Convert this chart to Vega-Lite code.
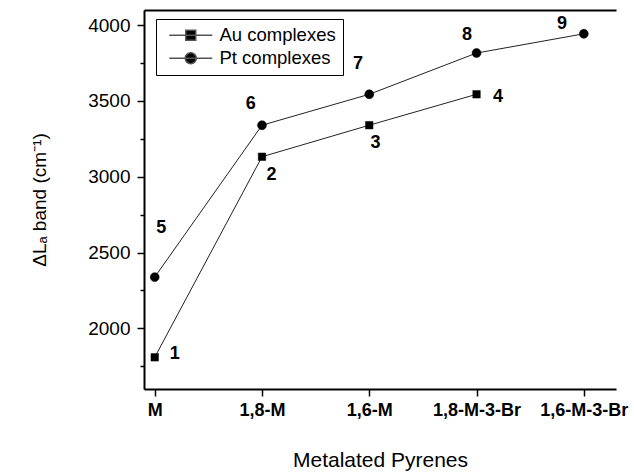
{
  "$schema": "https://vega.github.io/schema/vega-lite/v6.json",
  "width": 472,
  "height": 379,
  "autosize": {"type": "none"},
  "padding": {"left": 144, "top": 10, "right": 18, "bottom": 83},
  "background": "white",
  "config": {
    "font": "Liberation Sans",
    "view": {"stroke": null},
    "axis": {"domainColor": "black", "tickColor": "black", "labelColor": "black", "titleColor": "black", "grid": false}
  },
  "datasets": {
    "pts": [
      {"series": "Au complexes", "idx": 1, "val": 1809},
      {"series": "Au complexes", "idx": 2, "val": 3132},
      {"series": "Au complexes", "idx": 3, "val": 3340},
      {"series": "Au complexes", "idx": 4, "val": 3544},
      {"series": "Pt complexes", "idx": 1, "val": 2338},
      {"series": "Pt complexes", "idx": 2, "val": 3340},
      {"series": "Pt complexes", "idx": 3, "val": 3544},
      {"series": "Pt complexes", "idx": 4, "val": 3816},
      {"series": "Pt complexes", "idx": 5, "val": 3943}
    ],
    "labs": [
      {"lab": "1", "idx": 1.186, "val": 1829},
      {"lab": "2", "idx": 2.088, "val": 3009},
      {"lab": "3", "idx": 3.057, "val": 3221},
      {"lab": "4", "idx": 4.2, "val": 3524},
      {"lab": "5", "idx": 1.06, "val": 2660},
      {"lab": "6", "idx": 1.895, "val": 3482},
      {"lab": "7", "idx": 2.895, "val": 3743},
      {"lab": "8", "idx": 3.91, "val": 3934},
      {"lab": "9", "idx": 4.796, "val": 4007}
    ]
  },
  "resolve": {"axis": {"y": "independent", "x": "independent"}, "scale": {"shape": "independent"}},
  "layer": [
    {
      "data": {"name": "pts"},
      "mark": {"type": "line", "stroke": "#222", "strokeWidth": 1},
      "encoding": {
        "x": {
          "field": "idx", "type": "quantitative",
          "scale": {"domain": [0.9, 5.3], "nice": false, "zero": false},
          "axis": {
            "values": [1, 2, 3, 4, 5],
            "labelExpr": "['M','1,8-M','1,6-M','1,8-M-3-Br','1,6-M-3-Br'][datum.value-1]",
            "title": "Metalated Pyrenes",
            "titleFontSize": 21, "titleFontWeight": "normal", "titlePadding": 30,
            "labelFontSize": 18, "labelFontWeight": "bold", "labelPadding": 5,
            "tickSize": 7, "tickWidth": 1.5, "domainWidth": 2,
            "labelFlush": false, "labelOverlap": false
          }
        },
        "y": {
          "field": "val", "type": "quantitative",
          "scale": {"domain": [1600, 4100], "nice": false, "zero": false},
          "axis": {
            "orient": "left",
            "values": [2000, 2500, 3000, 3500, 4000],
            "format": "d",
            "title": "ΔLₐ band (cm⁻¹)",
            "titleFontSize": 19, "titleFontWeight": "normal", "titlePadding": 38,
            "labelFontSize": 19, "labelPadding": 7,
            "tickSize": 7, "tickWidth": 1.5, "domainWidth": 2
          }
        },
        "detail": {"field": "series", "type": "nominal"}
      }
    },
    {
      "data": {"name": "pts"},
      "mark": {"type": "point", "filled": true, "opacity": 1, "size": 56, "fill": "black", "stroke": "black", "strokeWidth": 0.5},
      "encoding": {
        "x": {"field": "idx", "type": "quantitative", "axis": {"orient": "top", "labels": false, "ticks": false, "title": null, "domainWidth": 2}},
        "y": {"field": "val", "type": "quantitative", "axis": null},
        "shape": {
          "field": "series", "type": "nominal",
          "scale": {"domain": ["Au complexes", "Pt complexes"], "range": ["M-1,-1H1V1H-1Z", "M1.2,0A1.2,1.2,0,1,1,-1.2,0A1.2,1.2,0,1,1,1.2,0Z"]},
          "legend": null
        }
      }
    },
    {
      "data": {"name": "pts"},
      "mark": {"type": "point", "filled": true, "opacity": 0, "size": 100, "fill": "black", "stroke": "#555", "strokeWidth": 1},
      "encoding": {
        "x": {"field": "idx", "type": "quantitative", "axis": null},
        "y": {"field": "val", "type": "quantitative", "axis": null},
        "shape": {
          "field": "series", "type": "nominal",
          "scale": {"domain": ["Au complexes", "Pt complexes"], "range": ["M-0.6,0H8M2.7,-1H4.7V1H2.7Z", "M-0.6,0H8M4.8,0A1.1,1.1,0,1,1,2.6,0A1.1,1.1,0,1,1,4.8,0Z"]},
          "legend": {
            "orient": "none", "legendX": 12, "legendY": 9,
            "title": null, "strokeColor": "black", "padding": 7,
            "symbolSize": 100, "symbolOpacity": 1,
            "labelFontSize": 18.5, "labelOffset": 38, "rowPadding": 4, "labelColor": "black"
          }
        }
      }
    },
    {
      "data": {"name": "labs"},
      "mark": {"type": "text", "fontSize": 18, "fontWeight": "bold", "color": "black", "align": "center", "baseline": "middle"},
      "encoding": {
        "x": {"field": "idx", "type": "quantitative", "axis": null},
        "y": {"field": "val", "type": "quantitative", "axis": {
          "orient": "left", "values": [1750, 2250, 2750, 3250, 3750],
          "labels": false, "domain": false, "title": null, "tickSize": 4, "tickWidth": 1.5
        }},
        "text": {"field": "lab", "type": "nominal"}
      }
    }
  ]
}
